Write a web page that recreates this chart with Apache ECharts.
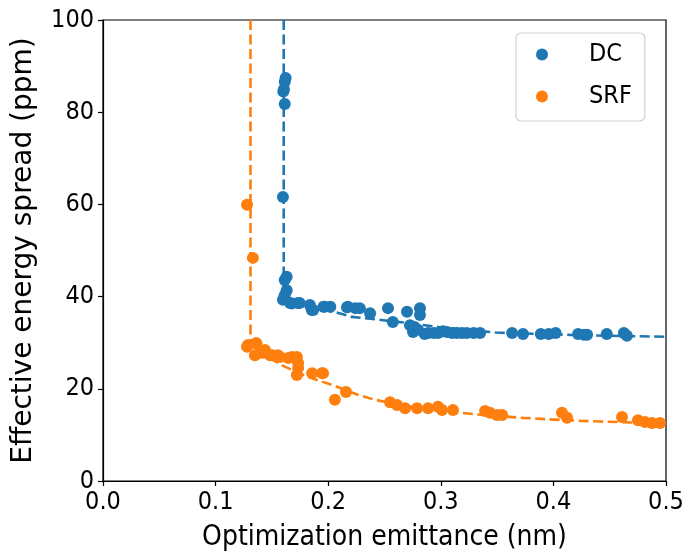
<!DOCTYPE html>
<html>
<head>
<meta charset="utf-8">
<script src="https://cdn.jsdelivr.net/npm/echarts@6/dist/echarts.min.js"></script>
<style>
html,body{margin:0;padding:0;background:#fff;}
#chart{width:695px;height:557px;}
</style>
</head>
<body>
<div id="chart"></div>
<script>
// ---- Data ----
var xTicks = [0.0, 0.1, 0.2, 0.3, 0.4, 0.5];
var yTicks = [0, 20, 40, 60, 80, 100];

var dcX = [0.1622,0.1614,0.1607,0.1601,0.1614,0.1598,0.1631,0.1614,0.1631,0.1614,0.1598,0.1675,0.1661,0.1746,0.1731,0.1837,0.1854,0.1867,0.1958,0.1968,0.2019,0.2175,0.2241,0.2167,0.2281,0.2372,0.2531,0.2574,0.2700,0.2815,0.2815,0.2726,0.2753,0.2766,0.2797,0.2857,0.2888,0.2938,0.2975,0.3019,0.3055,0.3100,0.3143,0.3188,0.3231,0.3292,0.3349,0.3633,0.3730,0.3888,0.3959,0.4020,0.4219,0.4272,0.4299,0.4474,0.4626,0.4653];
var dcY = [87.4,86.6,85.0,84.5,81.8,61.6,44.3,43.6,41.4,40.3,39.3,38.5,38.6,38.6,38.6,38.2,37.1,37.1,37.8,37.8,37.8,37.8,37.5,37.7,37.5,36.4,37.5,34.5,36.7,37.5,36.0,33.8,32.3,33.4,32.8,31.9,32.1,32.1,32.1,32.5,32.3,32.1,32.1,32.1,32.1,32.1,32.1,32.1,31.9,31.9,31.9,32.1,31.9,31.7,31.7,31.9,32.1,31.5];

var srfX = [0.1279,0.1331,0.1279,0.1288,0.1359,0.1362,0.1349,0.1392,0.1421,0.1438,0.1483,0.1501,0.1554,0.1572,0.1645,0.1679,0.1722,0.1733,0.1733,0.1722,0.1857,0.1945,0.1954,0.2059,0.2158,0.2549,0.2611,0.2683,0.2789,0.2887,0.2975,0.3011,0.3108,0.3393,0.3436,0.3499,0.3545,0.4076,0.4121,0.4609,0.4751,0.4813,0.4876,0.4946];
var srfY = [59.9,48.4,29.1,29.5,29.9,29.9,27.3,27.8,27.8,28.4,27.3,27.3,27.3,26.9,26.7,26.9,26.9,25.6,24.5,23.0,23.4,23.4,23.4,17.6,19.3,17.1,16.5,15.8,15.8,15.8,16.1,15.4,15.4,15.2,14.8,14.3,14.3,14.8,13.7,13.9,13.2,12.8,12.6,12.6];

var dcFitX = [0.1605,0.1605,0.1624,0.1766,0.1968,0.2099,0.221,0.2372,0.2696,0.2979,0.3484,0.4151,0.4495,0.5];
var dcFitY = [100,40,39.1,38.1,37.1,36.4,35.6,35.2,34.3,33.4,32.2,31.7,31.5,31.3];

var srfFitX = [0.131,0.131,0.1362,0.1463,0.1614,0.1816,0.2039,0.2251,0.2402,0.2574,0.2776,0.2979,0.3171,0.3383,0.3727,0.4091,0.4414,0.4697,0.5];
var srfFitY = [100,29.5,28.2,26.9,24.8,22.6,20.8,18.8,17.7,16.8,16.0,15.3,14.8,14.3,13.7,13.2,12.9,12.7,12.5];

function zip(a, b){ var r=[]; for(var i=0;i<a.length;i++) r.push([a[i], b[i]]); return r; }

var BLUE = '#1f77b4', ORANGE = '#ff7f0e';
var FONT = 'DejaVu Sans';
var FONTC = '"DejaVu Sans Condensed", "DejaVu Sans"';

var chart = echarts.init(document.getElementById('chart'), null, {renderer:'canvas'});
chart.setOption({
  animation: false,
  backgroundColor: '#ffffff',
  textStyle: {fontFamily: FONTC},
  grid: {left: 103, right: 29, top: 20, bottom: 76, show: true, borderColor: '#000', borderWidth: 1.2, backgroundColor: 'transparent'},
  legend: {
    orient: 'vertical',
    left: 516, top: 33,
    data: ['DC', 'SRF'],
    icon: 'circle',
    itemWidth: 30, itemHeight: 12,
    itemGap: 17,
    padding: [9, 13, 12, 20],
    borderColor: '#d0d0d0', borderWidth: 1.2, borderRadius: 5,
    backgroundColor: '#ffffff',
    textStyle: {fontFamily: FONTC, fontSize: 25, color: '#000', padding: [0,0,0,27], lineHeight: 25}
  },
  xAxis: {
    type: 'value', min: xTicks[0], max: xTicks[xTicks.length-1], interval: 0.1,
    name: 'Optimization emittance (nm)', nameLocation: 'middle', nameGap: 43,
    nameTextStyle: {fontFamily: FONTC, fontSize: 28, color: '#000'},
    axisLine: {onZero: false, lineStyle: {color: '#000', width: 1.2}},
    axisTick: {show: true, inside: false, length: 5, lineStyle: {color: '#000', width: 1.2}},
    axisLabel: {margin: 9, fontFamily: FONTC, fontSize: 25, color: '#000', formatter: function(v){ return v.toFixed(1); }},
    splitLine: {show: false}
  },
  yAxis: {
    type: 'value', min: yTicks[0], max: yTicks[yTicks.length-1], interval: 20,
    name: 'Effective energy spread (ppm)', nameLocation: 'middle', nameGap: 65, nameRotate: 90,
    nameTextStyle: {fontFamily: FONT, fontSize: 28, color: '#000'},
    axisLine: {onZero: false, lineStyle: {color: '#000', width: 1.2}},
    axisTick: {show: true, inside: false, length: 5, lineStyle: {color: '#000', width: 1.2}},
    axisLabel: {margin: 9, fontFamily: FONTC, fontSize: 25, color: '#000'},
    splitLine: {show: false}
  },
  series: [
    {name: 'DC fit', type: 'line', data: zip(dcFitX, dcFitY), showSymbol: false, symbol: 'none', clip: true,
     lineStyle: {color: BLUE, width: 2.6, type: [10, 4.5]}, z: 2, silent: true},
    {name: 'SRF fit', type: 'line', data: zip(srfFitX, srfFitY), showSymbol: false, symbol: 'none', clip: true,
     lineStyle: {color: ORANGE, width: 2.6, type: [10, 4.5]}, z: 2, silent: true},
    {name: 'DC', type: 'scatter', data: zip(dcX, dcY), symbol: 'circle', symbolSize: 12,
     itemStyle: {color: BLUE, opacity: 1}, z: 3},
    {name: 'SRF', type: 'scatter', data: zip(srfX, srfY), symbol: 'circle', symbolSize: 12,
     itemStyle: {color: ORANGE, opacity: 1}, z: 3}
  ]
});
</script>
</body>
</html>
